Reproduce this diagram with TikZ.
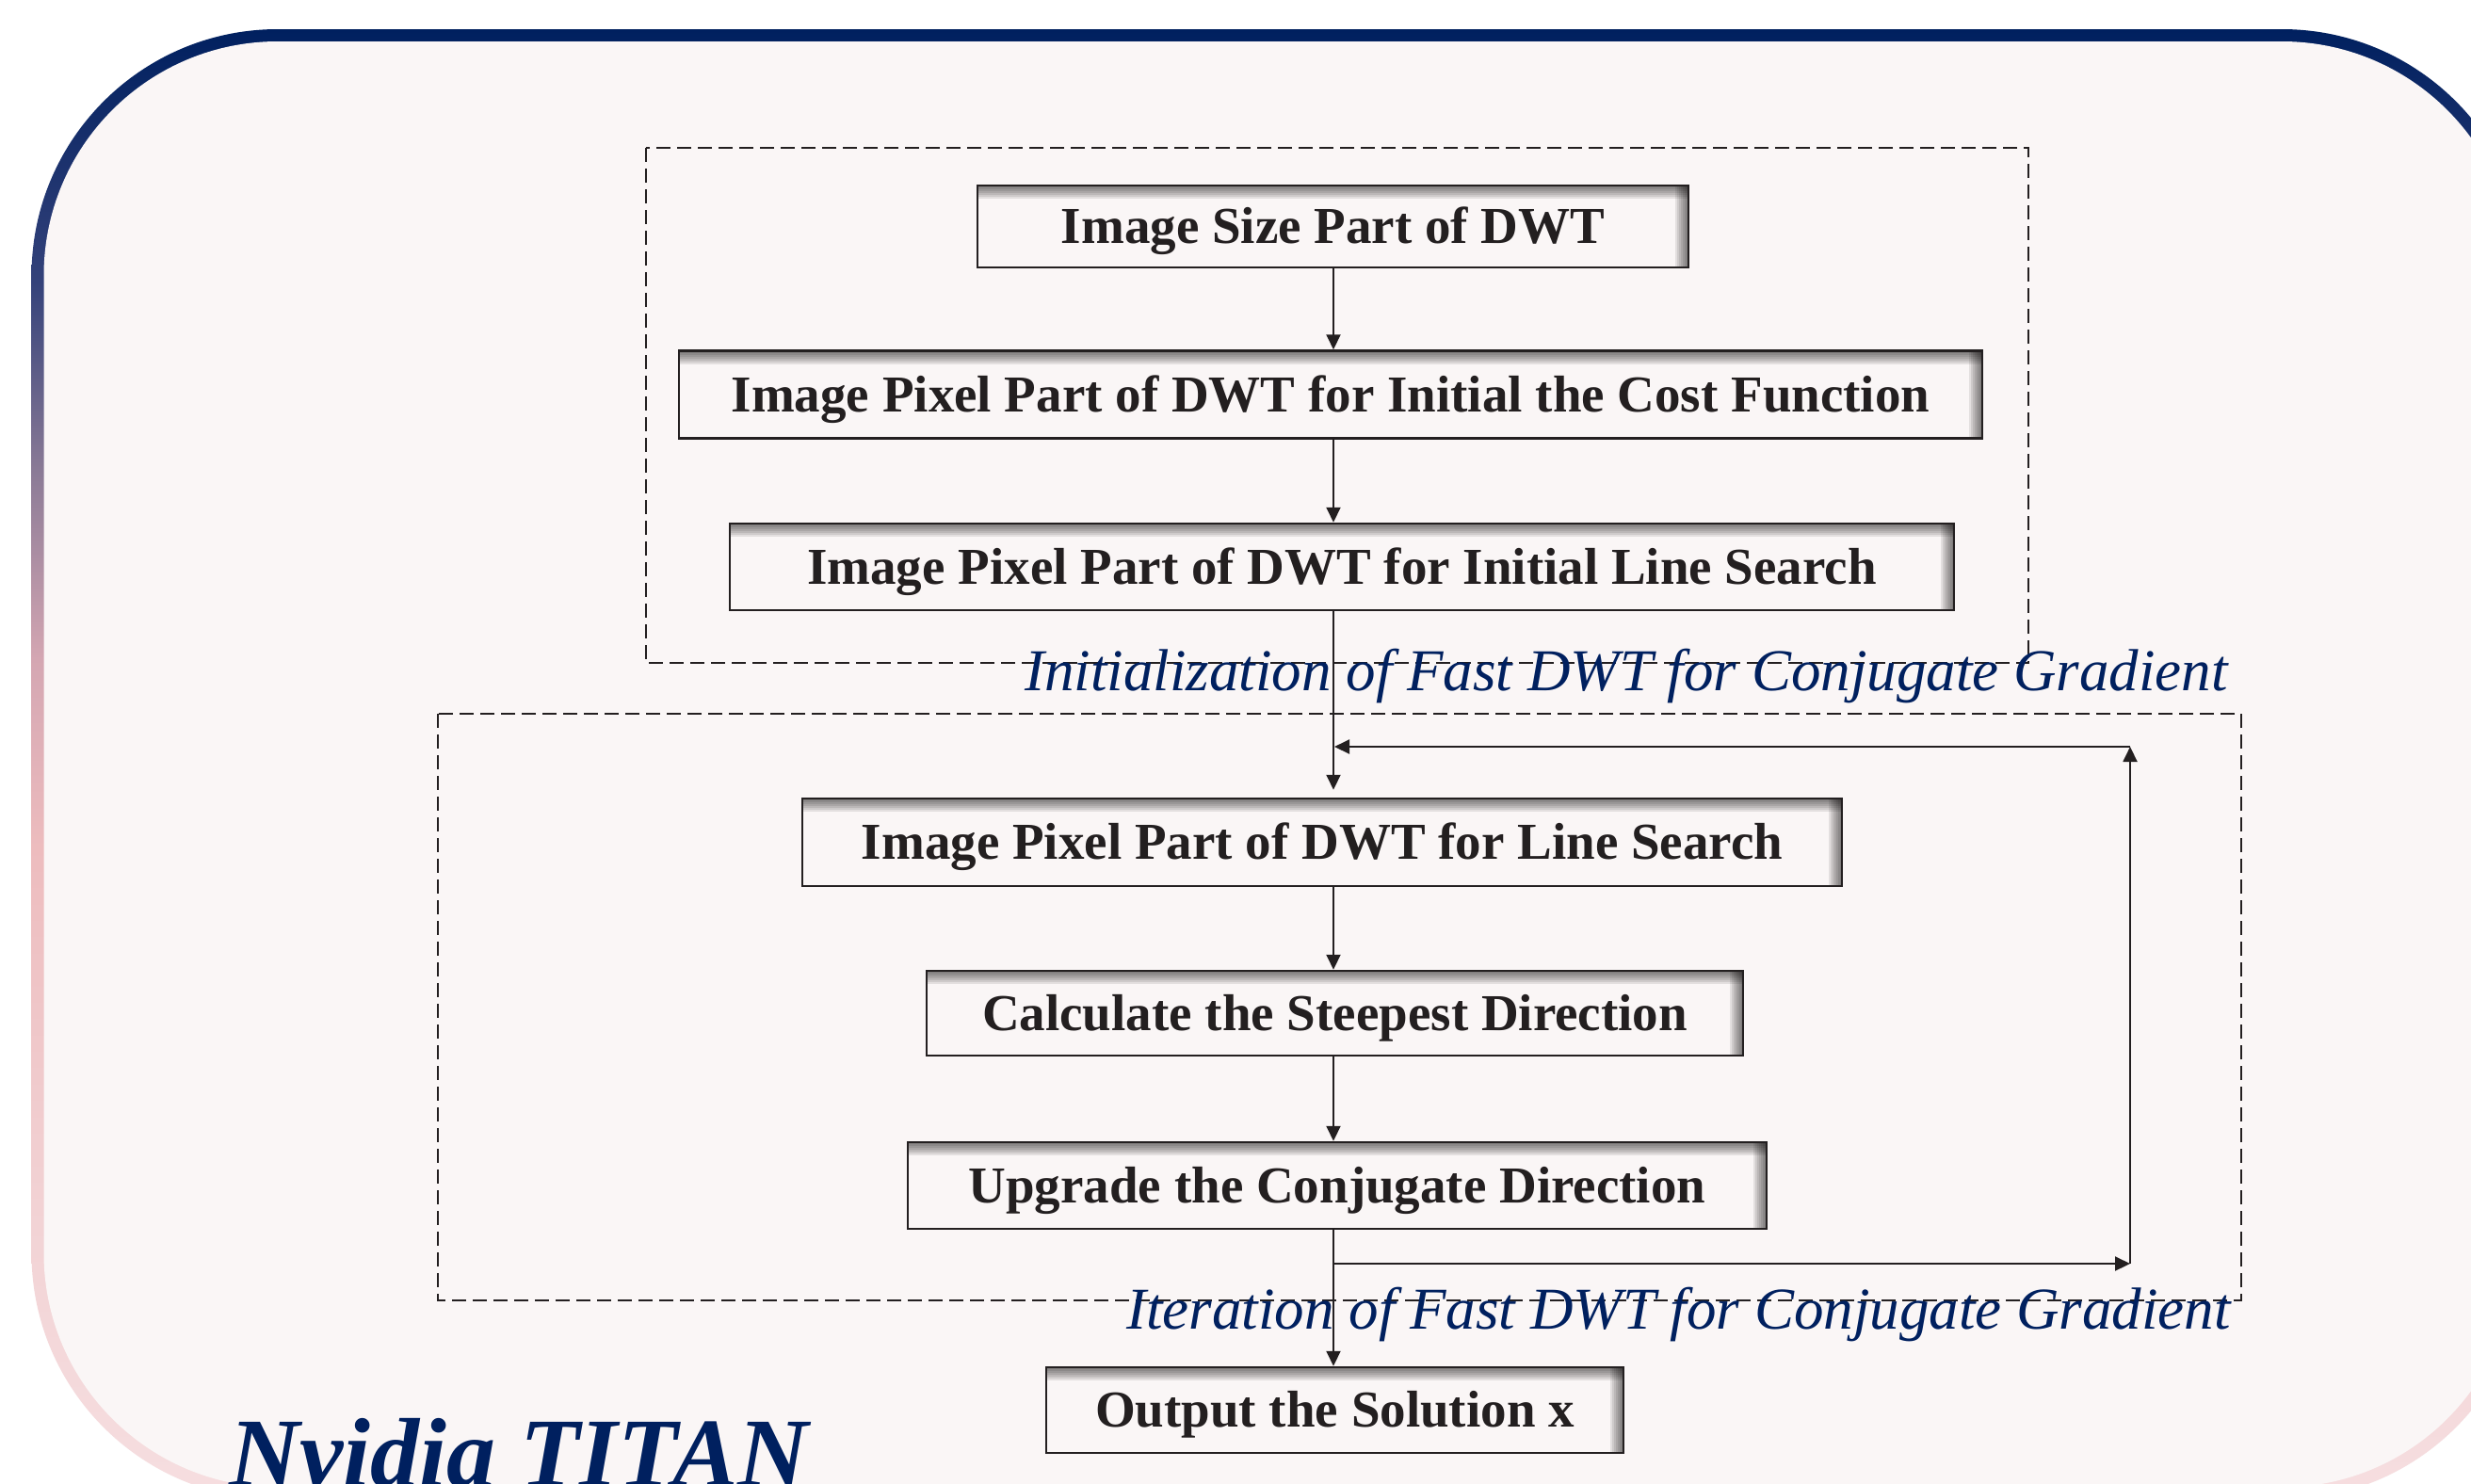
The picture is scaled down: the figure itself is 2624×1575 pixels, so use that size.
\documentclass[tikz,border=0pt]{standalone}
\usepackage{fontspec}
\setmainfont{Liberation Serif}
\usetikzlibrary{arrows.meta}

\definecolor{navy}{HTML}{00205F}
\definecolor{panel}{HTML}{FAF6F6}
\definecolor{ink}{HTML}{231F20}
% colours of the outer frame, from top to bottom
\definecolor{frA}{HTML}{00205F}
\definecolor{frB}{HTML}{34427A}
\definecolor{frC}{HTML}{8A7A96}
\definecolor{frD}{HTML}{D4A6B2}
\definecolor{frE}{HTML}{EDBCBE}
\definecolor{frF}{HTML}{F2D3D5}
\definecolor{frG}{HTML}{F6DEE0}

\pgfdeclareverticalshading{framegrad}{100bp}{%
  color(0bp)=(frG); color(25bp)=(frG); color(34.4bp)=(frF);
  color(47.2bp)=(frE); color(53.6bp)=(frD); color(60bp)=(frC);
  color(66.4bp)=(frB); color(75bp)=(frA); color(100bp)=(frA)}

\tikzset{
  stepbox/.style={draw=ink, line width=2.5pt, fill=panel, text=ink,
    font=\fontsize{55}{60}\selectfont\bfseries, inner sep=0pt,
    text height=36pt, text depth=0pt,
    % soft inner shadow along the top and right edges
    path picture={
      \foreach \h in {2,4,...,14} {
        \fill[black, fill opacity=0.09]
          (path picture bounding box.north west) rectangle
          ([yshift=-\h pt]path picture bounding box.north east);
        \fill[black, fill opacity=0.09]
          ([xshift=-\h pt]path picture bounding box.north east) rectangle
          (path picture bounding box.south east);
      }
    }},
  groupbox/.style={draw=ink, line width=2pt, dash pattern=on 15pt off 7pt},
  flow/.style={draw=ink, line width=2pt, -{Triangle[length=16pt,width=15pt]}},
  grouplabel/.style={inner sep=0pt, text=navy,
    font=\fontsize{63}{70}\selectfont\itshape},
}

\begin{document}
\begin{tikzpicture}[x=1pt, y=-1pt]
  \useasboundingbox (0,0) rectangle (2624,1575);
  \clip (0,0) rectangle (2624,1575);
  \fill[white] (0,0) rectangle (2624,1575);

  % outer rounded panel with a gradient rim
  \shade[shading=framegrad, rounded corners=261.5pt] (33.5,31) rectangle (2684.5,1592.5);
  \fill[panel, rounded corners=248.5pt] (46.5,44) rectangle (2671.5,1579.5);

  % dashed stage groups
  \draw[groupbox] (686,157) rectangle (2154,704);
  \draw[groupbox] (465,758) rectangle (2380,1381);

  % processing steps
  \node[stepbox, minimum width=755pt, minimum height=87pt] (b1) at (1415.5,240.5) {Image Size Part of DWT};
  \node[stepbox, minimum width=1384pt, minimum height=93pt] (b2) at (1413,419) {Image Pixel Part of DWT for Initial the Cost Function};
  \node[stepbox, minimum width=1300pt, minimum height=92pt] (b3) at (1425,602) {Image Pixel Part of DWT for Initial Line Search};
  \node[stepbox, minimum width=1104pt, minimum height=93pt] (b4) at (1404,894.5) {Image Pixel Part of DWT for Line Search};
  \node[stepbox, minimum width=867pt, minimum height=90pt] (b5) at (1417.5,1076) {Calculate the Steepest Direction};
  \node[stepbox, minimum width=912pt, minimum height=92pt] (b6) at (1420,1259) {Upgrade the Conjugate Direction};
  \node[stepbox, minimum width=613pt, minimum height=91pt] (b7) at (1417.5,1497.5) {Output the Solution x};

  % main flow line and loop corners
  \coordinate (spine) at (1416,0);
  \coordinate (loopR) at (2262,1342);
  \coordinate (loopT) at (2262,793);

  \draw[flow] (b1.south -| spine) -- (b2.north -| spine);
  \draw[flow] (b2.south -| spine) -- (b3.north -| spine);
  \draw[flow] (b3.south -| spine) -- ([yshift=8pt]b4.north -| spine);
  \draw[flow] (b4.south -| spine) -- (b5.north -| spine);
  \draw[flow] (b5.south -| spine) -- (b6.north -| spine);
  \draw[flow] (b6.south -| spine) -- (b7.north -| spine);

  % iteration loop
  \draw[flow] (spine |- loopR) -- (loopR);
  \draw[flow] (loopR) -- (loopT);
  \draw[flow] (loopT) -- ([xshift=1pt]spine |- loopT);

  % group captions
  \node[grouplabel, anchor=base east] (lab1) at (2366,733) {Initialization of Fast DWT for Conjugate Gradient};
  \node[grouplabel, anchor=base east] (lab2) at (2369,1411) {Iteration of Fast DWT for Conjugate Gradient};

  \node[anchor=base west, inner sep=0pt, text=navy,
    font=\fontsize{104}{110}\selectfont\bfseries\itshape] (gpu) at (243,1578) {Nvidia TITAN};
\end{tikzpicture}
\end{document}
